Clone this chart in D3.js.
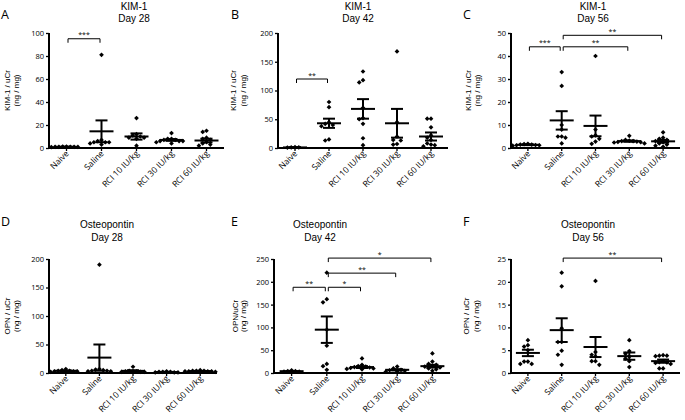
<!DOCTYPE html>
<html><head><meta charset="utf-8">
<script src="https://cdn.jsdelivr.net/npm/d3@7"></script>
<style>
body{margin:0;background:#fff}
svg{display:block}
text{font-family:"Open Sans",sans-serif;fill:#000}
</style>
</head><body>
<svg id="chart" width="685" height="420"></svg>
<script>
// ---------------- DATA ----------------
const categories = ["Naive", "Saline", "RCI 10 IU/kg", "RCI 30 IU/kg", "RCI 60 IU/kg"];

// KIM-1 Day 28
const kim28Points = [
  [1, 1.2, 0.8, 1, 1.1, 0.9, 1, 1.3],
  [81, 5, 6, 4, 3, 5, 7, 5],
  [26, 12, 11, 10, 9, 8, 2, 9],
  [13, 8, 7, 6, 6, 5, 7, 8, 4, 6],
  [14, 15, 8, 7, 5, 3, 2, 4, 9]
];
const kim28Mean = [1, 14.5, 10, 7, 6.5];
const kim28Sem = [0.1, 9.5, 2.7, 0.8, 1.6];
const kim28Ticks = [0, 20, 40, 60, 80, 100];
const kim28Sig = [{a: 0, b: 1, y: 95, label: "***"}];

// KIM-1 Day 42
const kim42Points = [
  [1, 1, 1.5, 0.8],
  [80, 71, 45, 42, 38, 13, 15, 40],
  [133, 118, 114, 70, 52, 50, 42, 17, 5],
  [168, 45, 14, 13, 6, 7, 20],
  [51, 51, 36, 22, 18, 14, 5, 6, 3, 8]
];
const kim42Mean = [1, 43, 68, 43, 20];
const kim42Sem = [0.2, 8, 17, 25, 7];
const kim42Ticks = [0, 50, 100, 150, 200];
const kim42Sig = [{a: 0, b: 1, y: 120, label: "**"}];

// KIM-1 Day 56
const kim56Points = [
  [1.5, 1.2, 1.8, 1, 1.5, 1.3, 1.7, 1.2],
  [33, 27, 10, 8, 5, 5, 4.5, 2],
  [40, 8, 5.5, 5, 2.8, 1.8, 4],
  [5.3, 3.5, 3, 3, 2.5, 2, 2.8, 3.2, 2.6, 2.4],
  [6.8, 4.5, 4, 3.5, 2, 1.5, 1, 0.5, 2.5, 3]
];
const kim56Mean = [1.4, 12, 9.6, 3, 2.9];
const kim56Sem = [0.15, 4, 4.5, 0.3, 0.6];
const kim56Ticks = [0, 10, 20, 30, 40, 50];
const kim56Sig = [
  {a: 0, b: 1, y: 44, label: "***"},
  {a: 1, b: 3, y: 44, label: "**"},
  {a: 1, b: 4, y: 49, label: "**"}
];

// Osteopontin Day 28
const opn28Points = [
  [7, 5, 4, 3, 3, 4, 2, 3],
  [190, 7, 6, 5, 4, 3, 4, 3],
  [11, 3, 3, 2, 4, 2, 3, 2],
  [2, 2, 1, 1, 2, 3, 1],
  [5, 4, 4, 3, 3, 2, 3, 4, 3]
];
const opn28Mean = [3.9, 27, 3.75, 1.7, 3.4];
const opn28Sem = [0.5, 23, 1.1, 0.3, 0.3];
const opn28Ticks = [0, 50, 100, 150, 200];
const opn28Sig = [];

// Osteopontin Day 42
const opn42Points = [
  [6, 4, 3, 3, 4],
  [220, 162, 155, 95, 60, 20, 15, 7],
  [32, 18, 15, 12, 10, 8, 14, 9, 11, 13],
  [14, 10, 7, 5, 4, 6, 3],
  [43, 25, 20, 18, 15, 12, 10, 8, 5, 14]
];
const opn42Mean = [4, 95, 13, 7, 15];
const opn42Sem = [0.5, 29, 2, 1.4, 3];
const opn42Ticks = [0, 50, 100, 150, 200, 250];
const opn42Sig = [
  {a: 0, b: 1, y: 188, label: "**"},
  {a: 1, b: 2, y: 188, label: "*"},
  {a: 1, b: 3, y: 219, label: "**"},
  {a: 1, b: 4, y: 252, label: "*"}
];

// Osteopontin Day 56
const opn56Points = [
  [7.2, 6.1, 5.8, 5.0, 2.5, 2.5, 2.0, 2.0],
  [22, 19, 9.8, 6.8, 6.8, 4.9, 4, 1.8],
  [20.2, 4.6, 4, 3.6, 2.6, 1.8, 2.6],
  [7.2, 4.8, 4.2, 3.6, 3.2, 2.6, 1.3],
  [3.9, 3.8, 3.7, 3.8, 2.6, 2.4, 2.2, 2.3, 2.0, 1.0, 1.0]
];
const opn56Mean = [4.4, 9.4, 5.7, 3.7, 2.6];
const opn56Sem = [0.7, 2.6, 2.2, 0.8, 0.35];
const opn56Ticks = [0, 5, 10, 15, 20, 25];
const opn56Sig = [{a: 1, b: 4, y: 25.2, label: "**"}];

// ---------------- LAYOUT ----------------
const panels = [
  {letter: "A", lx: 1, ly: 19, title: ["KIM-1", "Day 28"], tx: 134, ty: [9.5, 21.5],
   ylab: ["KIM-1 / uCr", "(ng / mg)"], yo: [42, 33.5],
   pts: kim28Points, mean: kim28Mean, sem: kim28Sem, ticks: kim28Ticks, sig: kim28Sig,
   x0: 49, x1: 224, yT: 33, yB: 148},
  {letter: "B", lx: 231, ly: 19, title: ["KIM-1", "Day 42"], tx: 358, ty: [9.5, 21.5],
   ylab: ["KIM-1 / uCr", "(ng / mg)"], yo: [45, 35],
   pts: kim42Points, mean: kim42Mean, sem: kim42Sem, ticks: kim42Ticks, sig: kim42Sig,
   x0: 278, x1: 448, yT: 33, yB: 148},
  {letter: "C", lx: 463, ly: 19, title: ["KIM-1", "Day 56"], tx: 593, ty: [9.5, 21.5],
   ylab: ["KIM-1 / uCr", "(ng / mg)"], yo: [43, 34],
   pts: kim56Points, mean: kim56Mean, sem: kim56Sem, ticks: kim56Ticks, sig: kim56Sig,
   x0: 511, x1: 680, yT: 33, yB: 148},
  {letter: "D", lx: 1, ly: 226, title: ["Osteopontin", "Day 28"], tx: 107, ty: [228, 240.5],
   ylab: ["OPN / uCr", "(ng / mg)"], yo: [42, 33.5],
   pts: opn28Points, mean: opn28Mean, sem: opn28Sem, ticks: opn28Ticks, sig: opn28Sig,
   x0: 49, x1: 217, yT: 259, yB: 373},
  {letter: "E", lx: 231, ly: 226, title: ["Osteopontin", "Day 42"], tx: 320, ty: [228, 240.5],
   ylab: ["OPN/uCr", "(ng / mg)"], yo: [39, 31],
   pts: opn42Points, mean: opn42Mean, sem: opn42Sem, ticks: opn42Ticks, sig: opn42Sig,
   x0: 274, x1: 450, yT: 259, yB: 373},
  {letter: "F", lx: 463, ly: 226, title: ["Osteopontin", "Day 56"], tx: 588, ty: [228, 240.5],
   ylab: ["OPN / uCr", "(ng / mg)"], yo: [45, 35],
   pts: opn56Points, mean: opn56Mean, sem: opn56Sem, ticks: opn56Ticks, sig: opn56Sig,
   x0: 511, x1: 680, yT: 259, yB: 373}
];

const svg = d3.select("#chart");
const LW = 2;
const marker = d3.symbol().type(d3.symbolSquare).size(11);

function swarm(vals, cx, y, d, h) {
  const placed = [];
  const order = vals.map((v, i) => i).sort((i, j) => vals[j] - vals[i]);
  order.forEach(i => {
    const py = y(vals[i]);
    for (let k = 0; k < 60; k++) {
      const off = k === 0 ? 0 : (k % 2 ? -1 : 1) * Math.ceil(k / 2) * d;
      const px = cx + off;
      const hit = placed.some(p => Math.abs(p.x - px) < d - 0.01 && Math.abs(p.y - py) < h);
      if (!hit) { placed.push({x: px, y: py}); break; }
    }
  });
  return placed;
}

panels.forEach(p => {
  const g = svg.append("g");
  const x = d3.scaleBand().domain(categories).range([p.x0, p.x1]);
  const y = d3.scaleLinear().domain([0, d3.max(p.ticks)]).range([p.yB, p.yT]);
  const cx = c => x(c) + x.bandwidth() / 2;

  // panel letter
  g.append("text").attr("x", p.lx).attr("y", p.ly).attr("font-size", 12.5).text(p.letter);
  // title (two lines)
  p.title.forEach((t, i) => g.append("text").attr("x", p.tx).attr("y", p.ty[i])
    .attr("text-anchor", "middle").attr("font-size", 10)
    .style("font-family", '"Liberation Sans",Arial,sans-serif').text(t));
  // y label (two lines)
  const yc = (p.yT + p.yB) / 2;
  p.ylab.forEach((t, i) => g.append("text")
    .attr("transform", `translate(${p.x0 - p.yo[i] + 3},${yc}) rotate(-90)`)
    .attr("text-anchor", "middle").attr("font-size", 8)
    .style("font-family", '"Liberation Sans",Arial,sans-serif').text(t));

  // y axis
  const ya = g.append("g").attr("transform", `translate(${p.x0},0)`)
    .call(d3.axisLeft(y).tickValues(p.ticks).tickSize(3).tickPadding(2).tickFormat(d3.format("d")));
  ya.select(".domain").attr("stroke-width", LW).attr("d", `M0,${p.yT}V${p.yB}`);
  ya.selectAll(".tick line").attr("stroke-width", 1.3);
  ya.selectAll(".tick text").attr("font-size", 7.5).attr("font-family", '"Open Sans",sans-serif');

  // x axis
  const xa = g.append("g").attr("transform", `translate(0,${p.yB})`)
    .call(d3.axisBottom(x).tickSize(3).tickPadding(2));
  xa.select(".domain").attr("stroke-width", LW).attr("d", `M${p.x0 - LW / 2},0H${p.x1}`);
  xa.selectAll(".tick line").attr("stroke-width", 1.3);
  xa.selectAll(".tick text").attr("font-size", 8.5).attr("font-family", '"Open Sans",sans-serif')
    .attr("text-anchor", "end").attr("dy", null).attr("y", 0)
    .attr("transform", "translate(3,6) rotate(-45)");

  // points
  categories.forEach((c, ci) => {
    const pos = swarm(p.pts[ci], cx(c), y, 3.8, 4.2);
    g.append("g").selectAll("path").data(pos).join("path")
      .attr("d", marker)
      .attr("transform", d => `translate(${d.x},${d.y}) rotate(45)`)
      .attr("fill", "#000");

    // mean and SEM
    const m = p.mean[ci], s = p.sem[ci], X = cx(c);
    const eg = g.append("g").attr("stroke", "#000").attr("stroke-width", LW).attr("fill", "none");
    eg.append("line").attr("x1", X - 12).attr("x2", X + 12).attr("y1", y(m)).attr("y2", y(m));
    eg.append("line").attr("x1", X).attr("x2", X).attr("y1", y(m + s)).attr("y2", y(Math.max(0, m - s)));
    eg.append("line").attr("x1", X - 6).attr("x2", X + 6).attr("y1", y(m + s)).attr("y2", y(m + s));
    if (m - s > 0) eg.append("line").attr("x1", X - 6).attr("x2", X + 6).attr("y1", y(m - s)).attr("y2", y(m - s));
  });

  // significance brackets
  p.sig.forEach(sg => {
    const xa0 = cx(categories[sg.a]) + 1.5, xb = cx(categories[sg.b]) - 1.5;
    const yy = y(sg.y);
    g.append("path").attr("d", `M${xa0},${yy + 4}V${yy}H${xb}V${yy + 4}`)
      .attr("fill", "none").attr("stroke", "#000").attr("stroke-width", 1);
    g.append("text").attr("x", (xa0 + xb) / 2).attr("y", yy - 1.5).attr("text-anchor", "middle")
      .attr("font-size", 7).text(sg.label);
  });
});
</script>
</body></html>
